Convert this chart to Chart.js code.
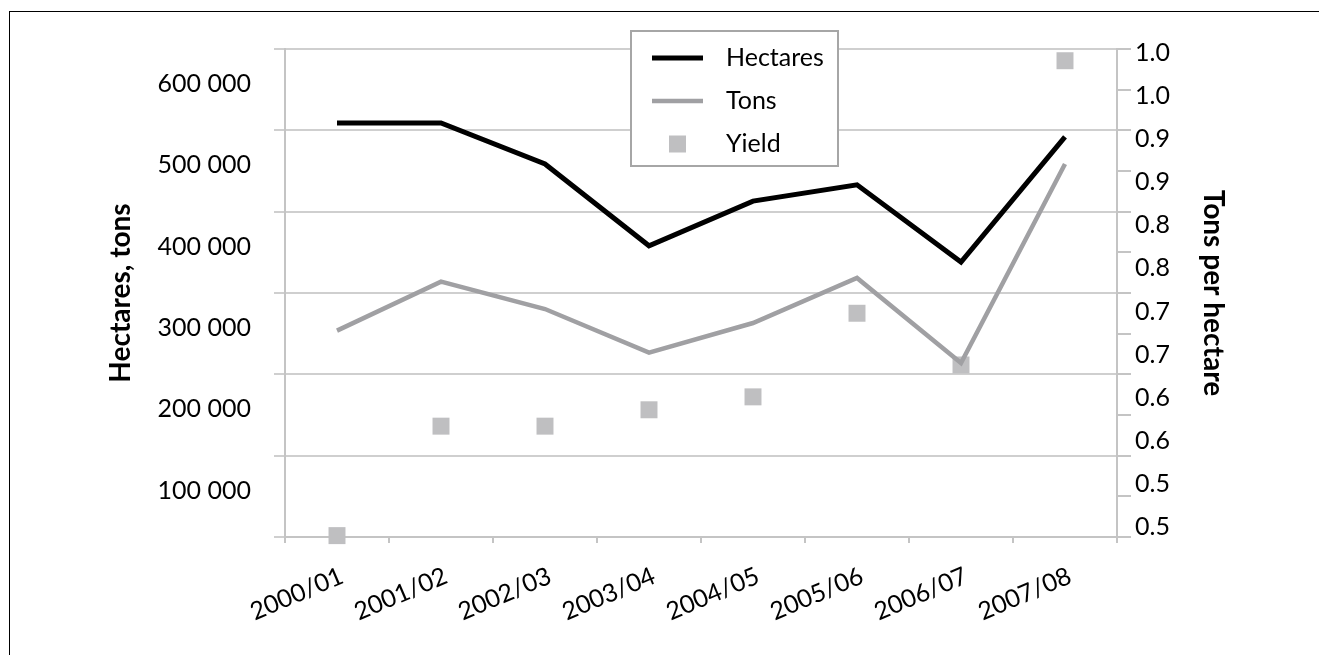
<!DOCTYPE html>
<html>
<head>
<meta charset="utf-8">
<script src="https://cdn.jsdelivr.net/npm/chart.js@4"></script>
<style>
  html, body { margin: 0; padding: 0; background: #fff; }
  body { width: 1319px; height: 655px; overflow: hidden; position: relative; }
  #frame { position: absolute; left: 9px; top: 11px; width: 1400px; height: 700px; border: 1px solid #000; }
  #wrap { position: absolute; left: 0; top: 0; width: 1319px; height: 655px; }
</style>
</head>
<body>
<div id="frame"></div>
<div id="wrap"><canvas id="yieldChart"></canvas></div>
<script>
// Data
var seasons = ["2000/01", "2001/02", "2002/03", "2003/04", "2004/05", "2005/06", "2006/07", "2007/08"];
var hectares = [509000, 509000, 458600, 358000, 413000, 433000, 338000, 492000];
var tons = [253700, 313900, 280300, 226600, 263100, 318500, 214000, 458600];
var yieldPerHa = [0.49, 0.617, 0.617, 0.636, 0.651, 0.748, 0.688, 1.041];

// Tick labels
var leftTickLabels = ["", "100 000", "200 000", "300 000", "400 000", "500 000", "600 000"];
var rightTickValues = [0.5, 0.55, 0.6, 0.65, 0.7, 0.75, 0.8, 0.85, 0.9, 0.95, 1.0, 1.05];
var rightTickLabels = ["0.5", "0.5", "0.6", "0.6", "0.7", "0.7", "0.8", "0.8", "0.9", "0.9", "1.0", "1.0"];

var FONT = "Lato";
var tickFont = { family: FONT, size: 25 };
var titleFont = { family: FONT, size: 28, weight: "bold" };
var gridGray = "#cfcfcf";
var axisGray = "#c4c4c4";

// Boxed legend drawn over the plot, like the original
var legendBox = {
  id: "legendBox",
  afterDraw: function (chart) {
    var ctx = chart.ctx;
    var x = 631, y = 31, w = 207, h = 135;
    ctx.save();
    ctx.fillStyle = "#fff";
    ctx.fillRect(x, y, w, h);
    ctx.strokeStyle = "#a6a6a6";
    ctx.lineWidth = 2;
    ctx.strokeRect(x, y, w, h);
    ctx.font = "25px " + FONT;
    ctx.textBaseline = "middle";
    chart.data.datasets.forEach(function (ds, i) {
      var cy = y + 27 + i * 43;
      if (ds.showLine === false) {
        ctx.fillStyle = ds.pointBackgroundColor;
        ctx.fillRect(669, cy - 8.5, 17, 17);
      } else {
        ctx.strokeStyle = ds.borderColor;
        ctx.lineWidth = ds.borderWidth;
        ctx.beginPath();
        ctx.moveTo(652, cy);
        ctx.lineTo(703, cy);
        ctx.stroke();
      }
      ctx.fillStyle = "#000";
      ctx.fillText(ds.label, 726, cy);
    });
    ctx.restore();
  }
};

var ctx = document.getElementById("yieldChart").getContext("2d");
var yieldChart = new Chart(ctx, {
  type: "line",
  data: {
    labels: seasons,
    datasets: [
      {
        label: "Hectares",
        data: hectares,
        yAxisID: "y",
        borderColor: "#000000",
        borderWidth: 5,
        borderJoinStyle: "miter",
        pointRadius: 0,
        tension: 0,
      },
      {
        label: "Tons",
        data: tons,
        yAxisID: "y",
        borderColor: "#a0a0a3",
        borderWidth: 4.5,
        borderJoinStyle: "miter",
        pointRadius: 0,
        tension: 0,
      },
      {
        label: "Yield",
        data: yieldPerHa,
        yAxisID: "y2",
        showLine: false,
        pointStyle: "rect",
        pointRadius: 12,
        pointBorderWidth: 0,
        pointBackgroundColor: "#bfbfc1",
        clip: false,
      },
    ],
  },
  options: {
    responsive: true,
    maintainAspectRatio: false,
    animation: false,
    devicePixelRatio: 1,
    layout: { padding: { left: 100, top: 49, right: 85, bottom: 18 } },
    plugins: { legend: { display: false }, tooltip: { enabled: false } },
    scales: {
      x: {
        offset: true,
        grid: { drawOnChartArea: false, offset: true, tickLength: 6, color: axisGray, lineWidth: 2 },
        border: { color: axisGray, width: 2 },
        ticks: { font: tickFont, color: "#000", minRotation: 23, maxRotation: 23, autoSkip: false, padding: 18, labelOffset: 5 },
        afterFit: function (s) { s.height = 100; },
      },
      y: {
        position: "left",
        min: 0,
        max: 600000,
        grid: { color: gridGray, lineWidth: 2, tickLength: 11 },
        border: { color: axisGray, width: 2 },
        ticks: {
          stepSize: 100000,
          font: tickFont,
          color: "#000",
          padding: 23,
          labelOffset: 35,
          callback: function (v, i) { return leftTickLabels[i]; },
        },
        title: { display: true, text: "Hectares, tons", font: titleFont, color: "#000", padding: 4 },
        afterFit: function (s) { s.width = 185; },
      },
      y3: {
        position: "right",
        weight: 0,
        min: 0.45,
        max: 1.05,
        grid: { drawOnChartArea: false, tickLength: 14, color: axisGray, lineWidth: 2 },
        border: { color: axisGray, width: 2 },
        ticks: { display: false, stepSize: 0.05 },
        afterFit: function (s) { s.width = 14; },
      },
      y2: {
        position: "right",
        weight: 1,
        min: 0.4884,
        max: 1.0546,
        grid: { display: false, drawTicks: false },
        border: { display: false },
        afterBuildTicks: function (s) {
          s.ticks = rightTickValues.map(function (v) { return { value: v }; });
        },
        ticks: {
          font: tickFont,
          color: "#000",
          padding: 4,
          callback: function (v, i) { return rightTickLabels[i]; },
        },
        title: { display: true, text: "Tons per hectare", font: titleFont, color: "#000", padding: 4 },
        afterFit: function (s) { s.width = 103; },
      },
    },
  },
  plugins: [legendBox],
});
</script>
</body>
</html>
